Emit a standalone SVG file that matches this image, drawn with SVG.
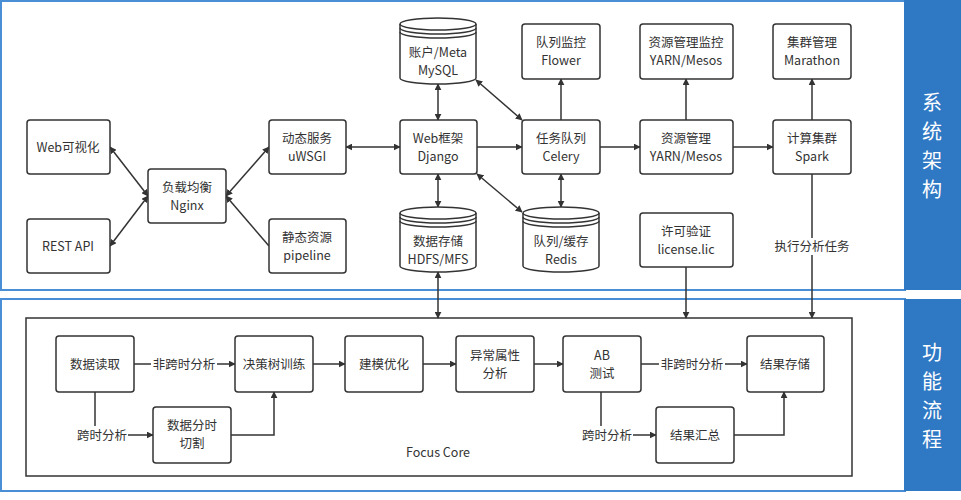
<svg xmlns="http://www.w3.org/2000/svg" width="961" height="500" viewBox="0 0 961 500">
<style>
.b{fill:#fff;stroke:#333;stroke-width:1.5}
.t{font-family:"Noto Sans CJK SC","Liberation Sans",sans-serif;font-size:12.5px;fill:#333;text-anchor:middle}
.s{font-family:"Noto Sans CJK SC",sans-serif;font-size:20px;fill:#fff;text-anchor:middle}
.c{fill:none;stroke:#333;stroke-width:1.5}
.a{marker-end:url(#ar)}
.d{marker-end:url(#ar);marker-start:url(#ar)}
</style>
<defs>
<marker id="ar" viewBox="0 0 10 10" refX="9" refY="5" markerWidth="7" markerHeight="7" orient="auto-start-reverse" markerUnits="userSpaceOnUse"><path d="M0,0L10,5L0,10z" fill="#333"/></marker>
</defs>
<rect x="0" y="0" width="961" height="500" fill="#fff"/>
<rect x="1" y="1" width="904" height="289" fill="none" stroke="#4a8fd6" stroke-width="2"/>
<rect x="904" y="0" width="57" height="290" fill="#2f78c4"/>
<rect x="1" y="299" width="904" height="192" fill="none" stroke="#4a8fd6" stroke-width="2"/>
<rect x="904" y="299" width="57" height="192" fill="#2f78c4"/>
<g id="side1"><text class="s" x="932" y="110">系</text><text class="s" x="932" y="139">统</text><text class="s" x="932" y="168">架</text><text class="s" x="932" y="197">构</text></g>
<g id="side2"><text class="s" x="932" y="360">功</text><text class="s" x="932" y="389">能</text><text class="s" x="932" y="418">流</text><text class="s" x="932" y="447">程</text></g>
<g id="focus"><rect x="26" y="318" width="826" height="158" fill="none" stroke="#333" stroke-width="1.5"/><text class="t" x="438" y="457">Focus Core</text></g>

<g id="connectors">
<path class="c d" d="M110,147L148,196"/>
<path class="c d" d="M110,246L148,196"/>
<path class="c d" d="M226,196L269,147"/>
<path class="c a" d="M269,246L226,196"/>
<path class="c d" d="M346,147H400"/>
<path class="c d" d="M438,120V84"/>
<path class="c d" d="M438,174V207"/>
<path class="c a" d="M477,147H522"/>
<path class="c d" d="M476,80L522,120"/>
<path class="c d" d="M477,174L522,212"/>
<path class="c a" d="M561,120V79"/>
<path class="c d" d="M561,174V207"/>
<path class="c a" d="M600,147H640"/>
<path class="c a" d="M686,120V79"/>
<path class="c a" d="M733,147H773"/>
<path class="c a" d="M812,120V79"/>
<path class="c" d="M812,174V238"/>
<path class="c a" d="M812,255V318"/>
<path class="c a" d="M686,267V318"/>
<path class="c d" d="M438,272V318"/>
<path class="c" d="M134,364H151"/>
<path class="c a" d="M217,364H235"/>
<path class="c" d="M95,392V426"/>
<path class="c a" d="M128,435H153"/>
<path class="c a" d="M231,435H274V392"/>
<path class="c a" d="M313,364H345"/>
<path class="c a" d="M423,364H456"/>
<path class="c a" d="M534,364H563"/>
<path class="c" d="M641,364H659"/>
<path class="c a" d="M725,364H747"/>
<path class="c" d="M601,392V426"/>
<path class="c a" d="M633,435H656"/>
<path class="c a" d="M734,435H784V392"/>
<text class="t" x="812" y="251">执行分析任务</text>
<text class="t" x="184" y="369">非跨时分析</text>
<text class="t" x="102" y="440">跨时分析</text>
<text class="t" x="692" y="369">非跨时分析</text>
<text class="t" x="607" y="440">跨时分析</text>
</g>

<g id="web"><rect class="b" x="27" y="120" width="83" height="54" rx="3"/><text class="t" x="68" y="152">Web可视化</text></g>
<g id="rest"><rect class="b" x="27" y="219" width="83" height="54" rx="3"/><text class="t" x="68" y="251">REST API</text></g>
<g id="nginx"><rect class="b" x="148" y="169" width="78" height="54" rx="3"/><text class="t" x="187" y="192">负载均衡</text><text class="t" x="187" y="210">Nginx</text></g>
<g id="uwsgi"><rect class="b" x="269" y="120" width="77" height="54" rx="3"/><text class="t" x="307" y="143">动态服务</text><text class="t" x="307" y="161">uWSGI</text></g>
<g id="pipeline"><rect class="b" x="269" y="219" width="77" height="54" rx="3"/><text class="t" x="307" y="242">静态资源</text><text class="t" x="307" y="260">pipeline</text></g>
<g id="django"><rect class="b" x="400" y="120" width="77" height="54" rx="3"/><text class="t" x="438" y="143">Web框架</text><text class="t" x="438" y="161">Django</text></g>
<g id="mysql"><path class="b" d="M400,24A38,6 0 0 1 476,24V78A38,6 0 0 1 400,78Z"/><path class="c" d="M400,24A38,6 0 0 0 476,24M400,28A38,6 0 0 0 476,28M400,32A38,6 0 0 0 476,32"/><text class="t" x="438" y="57">账户/Meta</text><text class="t" x="438" y="75">MySQL</text></g>
<g id="hdfs"><path class="b" d="M400,213A38,6 0 0 1 476,213V266A38,6 0 0 1 400,266Z"/><path class="c" d="M400,213A38,6 0 0 0 476,213M400,217A38,6 0 0 0 476,217M400,221A38,6 0 0 0 476,221"/><text class="t" x="438" y="246">数据存储</text><text class="t" x="438" y="264">HDFS/MFS</text></g>
<g id="redis"><path class="b" d="M523,213A38,6 0 0 1 599,213V266A38,6 0 0 1 523,266Z"/><path class="c" d="M523,213A38,6 0 0 0 599,213M523,217A38,6 0 0 0 599,217M523,221A38,6 0 0 0 599,221"/><text class="t" x="561" y="246">队列/缓存</text><text class="t" x="561" y="264">Redis</text></g>
<g id="flower"><rect class="b" x="522" y="24" width="78" height="55" rx="3"/><text class="t" x="561" y="47">队列监控</text><text class="t" x="561" y="65">Flower</text></g>
<g id="celery"><rect class="b" x="522" y="120" width="78" height="54" rx="3"/><text class="t" x="561" y="143">任务队列</text><text class="t" x="561" y="161">Celery</text></g>
<g id="yarnmon"><rect class="b" x="640" y="24" width="93" height="55" rx="3"/><text class="t" x="686" y="47">资源管理监控</text><text class="t" x="686" y="65">YARN/Mesos</text></g>
<g id="yarn"><rect class="b" x="640" y="120" width="93" height="54" rx="3"/><text class="t" x="686" y="143">资源管理</text><text class="t" x="686" y="161">YARN/Mesos</text></g>
<g id="license"><rect class="b" x="640" y="213" width="93" height="54" rx="3"/><text class="t" x="686" y="236">许可验证</text><text class="t" x="686" y="254">license.lic</text></g>
<g id="marathon"><rect class="b" x="773" y="24" width="78" height="55" rx="3"/><text class="t" x="812" y="47">集群管理</text><text class="t" x="812" y="65">Marathon</text></g>
<g id="spark"><rect class="b" x="773" y="120" width="78" height="54" rx="3"/><text class="t" x="812" y="143">计算集群</text><text class="t" x="812" y="161">Spark</text></g>

<g id="read"><rect class="b" x="56" y="336" width="78" height="56" rx="3"/><text class="t" x="95" y="369">数据读取</text></g>
<g id="tree"><rect class="b" x="235" y="336" width="78" height="56" rx="3"/><text class="t" x="274" y="369">决策树训练</text></g>
<g id="model"><rect class="b" x="345" y="336" width="78" height="56" rx="3"/><text class="t" x="384" y="369">建模优化</text></g>
<g id="anom"><rect class="b" x="456" y="336" width="78" height="56" rx="3"/><text class="t" x="495" y="360">异常属性</text><text class="t" x="495" y="378">分析</text></g>
<g id="ab"><rect class="b" x="563" y="336" width="78" height="56" rx="3"/><text class="t" x="602" y="360">AB</text><text class="t" x="602" y="378">测试</text></g>
<g id="store"><rect class="b" x="747" y="336" width="77" height="56" rx="3"/><text class="t" x="785" y="369">结果存储</text></g>
<g id="split"><rect class="b" x="153" y="407" width="78" height="56" rx="3"/><text class="t" x="192" y="430">数据分时</text><text class="t" x="192" y="448">切割</text></g>
<g id="sum"><rect class="b" x="656" y="407" width="78" height="56" rx="3"/><text class="t" x="695" y="440">结果汇总</text></g>
</svg>
